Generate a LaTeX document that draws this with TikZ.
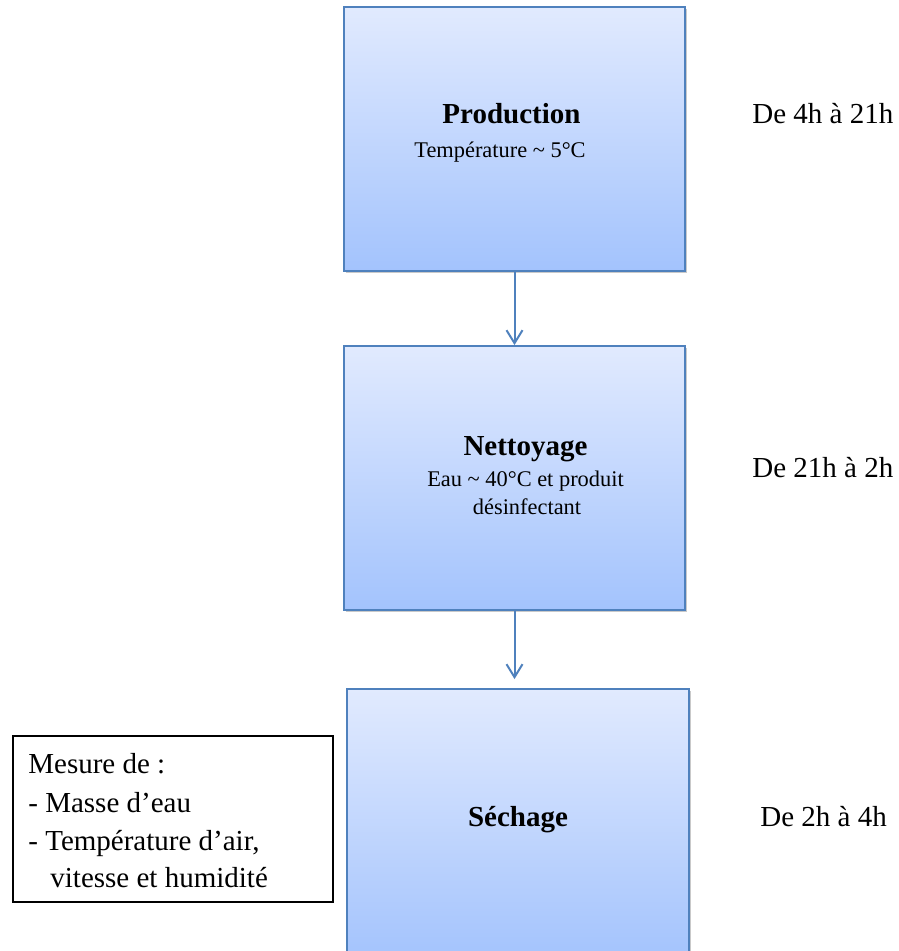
\documentclass[tikz,border=0pt]{standalone}
\usepackage{fontspec}
\setmainfont{Liberation Serif}
\usetikzlibrary{arrows.meta,shadows}
\definecolor{bord}{HTML}{4F81BD}
\definecolor{topc}{HTML}{E1EAFE}
\definecolor{botc}{HTML}{A3C3FD}
\tikzset{
  stagebox/.style={draw=bord, line width=0.9pt, top color=topc, bottom color=botc,
    drop shadow={shadow xshift=1.2pt, shadow yshift=-1.2pt, opacity=0.3, fill=black!70},
    minimum width=170.5pt, minimum height=132pt, inner sep=0pt},
  notebox/.style={draw=black, line width=0.7pt, fill=white, minimum width=160pt, minimum height=83pt, inner sep=0pt},
  bigb/.style={font=\fontsize{14.5}{17}\selectfont\bfseries, inner sep=0pt, anchor=base},
  big/.style={font=\fontsize{14.5}{17}\selectfont, inner sep=0pt, anchor=base west},
  small/.style={font=\fontsize{11.2}{14}\selectfont, inner sep=0pt, anchor=base},
  arr/.style={draw=bord, line width=1pt, -{Straight Barb[length=6.5pt,width=8pt,line width=1pt]}}
}
\begin{document}
\begin{tikzpicture}[x=0.5pt,y=-0.5pt]
\useasboundingbox (0,0) rectangle (898,951);
\clip (0,0) rectangle (898,951);
% stage boxes
\node[stagebox] (prod) at (514.5,139) {};
\node[stagebox] (nett) at (514.5,478) {};
\node[stagebox, minimum width=171pt, minimum height=136pt] (sech) at (518,825) {};
% texts in boxes
\node[bigb] (tprod) at (511.5,124) {Production};
\node[small] (tprod2) at (500,158) {Température \textasciitilde{} 5°C};
\node[bigb] (tnett) at (525.5,455) {Nettoyage};
\node[small] (tnett2) at (525.5,486) {Eau \textasciitilde{} 40°C et produit};
\node[small] (tnett3) at (527,514) {désinfectant};
\node[bigb] (tsech) at (518,826) {Séchage};
% arrows
\draw[arr] (prod.south) -- (nett.north);
\draw[arr, shorten >=4.5pt] (nett.south) -- (nett.south |- sech.north);
% time labels
\node[big] (h1) at (752,124) {De 4h à 21h};
\node[big] (h2) at (752,477) {De 21h à 2h};
\node[big] (h3) at (760,826) {De 2h à 4h};
% measure box
\node[notebox] (mes) at (173,819) {};
\node[big] (m1) at (28,773) {Mesure de :};
\node[big] (m2) at (28,812) {- Masse d’eau};
\node[big] (m3) at (28,850) {- Température d’air,};
\node[big] (m4) at (50,887) {vitesse et humidité};
\end{tikzpicture}
\end{document}
